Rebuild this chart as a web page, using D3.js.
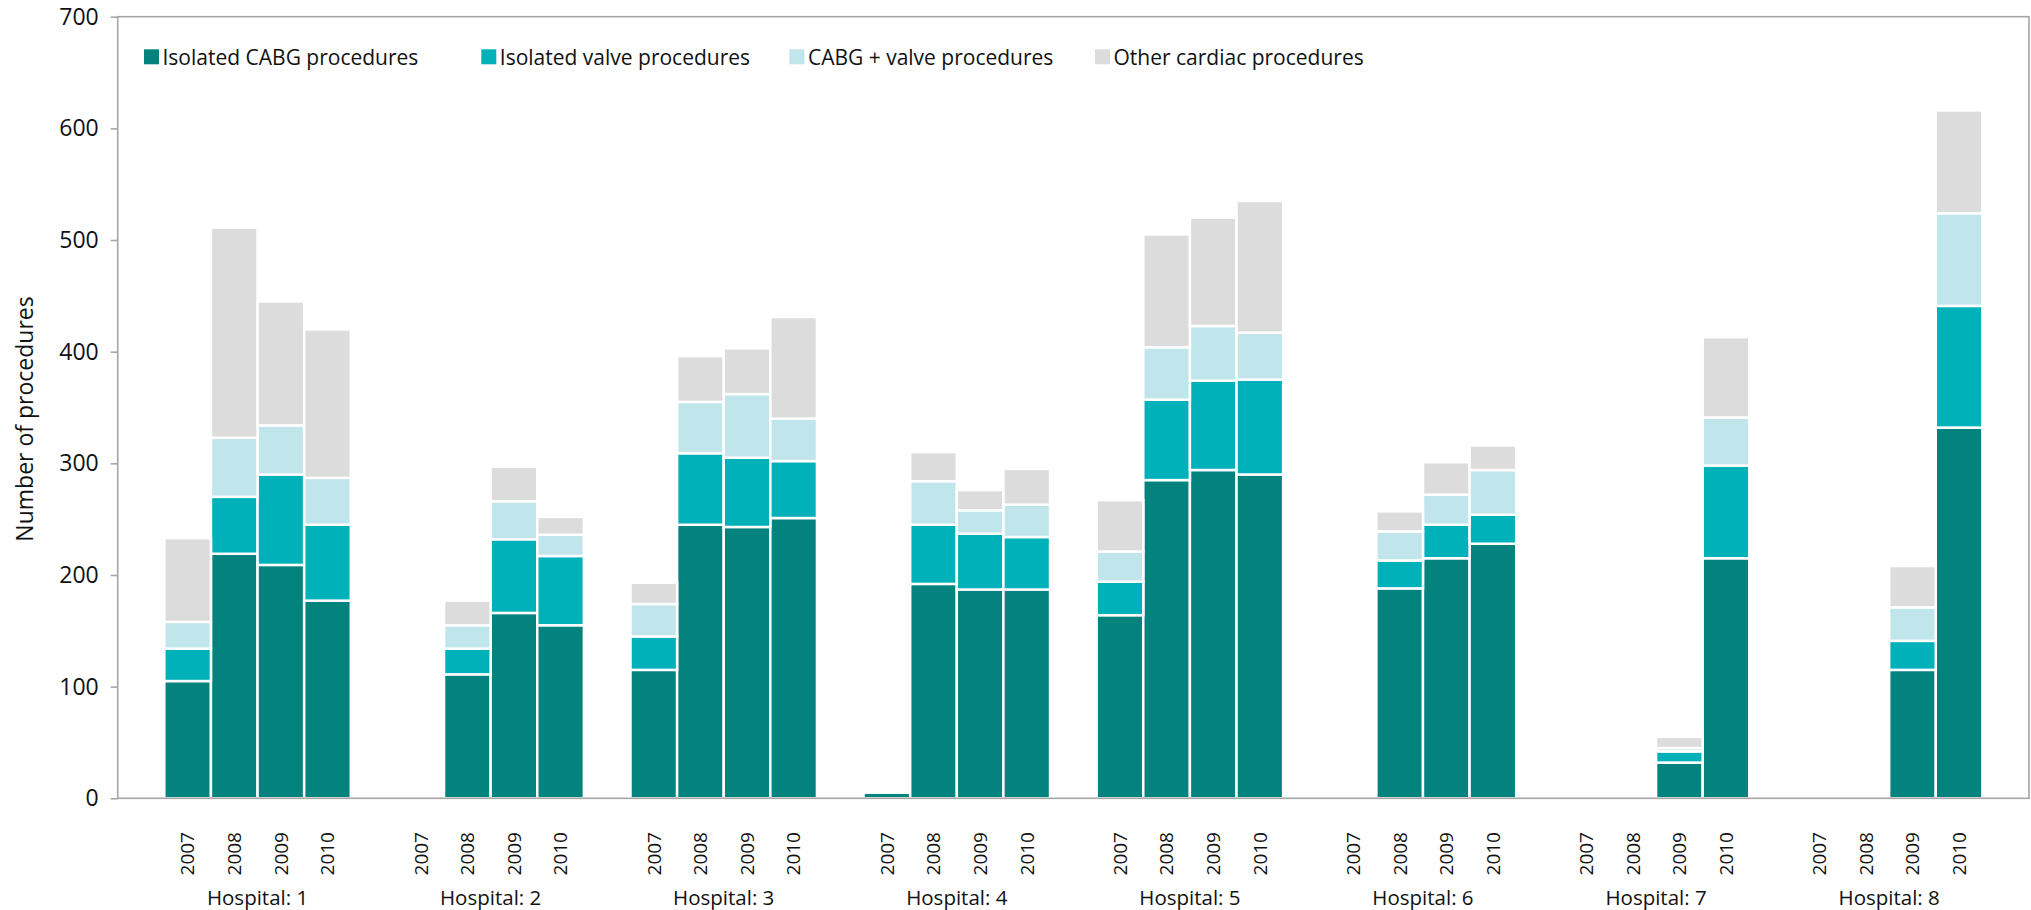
<!DOCTYPE html>
<html>
<head>
<meta charset="utf-8">
<title>Cardiac procedures by hospital and year</title>
<script src="https://cdn.jsdelivr.net/npm/d3@7"></script>
<style>
  html, body { margin: 0; padding: 0; background: #ffffff; }
  svg { display: block; }
  text { font-family: "Open Sans", "Noto Sans", sans-serif; fill: #111; }
</style>
</head>
<body>
<svg id="chart" width="2031" height="910"></svg>
<script>
// ---- Data -------------------------------------------------------------
const hospitals = ["Hospital: 1", "Hospital: 2", "Hospital: 3", "Hospital: 4",
                   "Hospital: 5", "Hospital: 6", "Hospital: 7", "Hospital: 8"];
const years = ["2007", "2008", "2009", "2010"];
const seriesNames = ["Isolated CABG procedures", "Isolated valve procedures",
                     "CABG + valve procedures", "Other cardiac procedures"];

// One value per hospital/year, hospital-major (H1 2007..2010, H2 2007..2010, ...)
const isolatedCabg = [105, 219, 209, 177,   0, 111, 166, 155,
                      115, 245, 243, 251,   5, 192, 187, 187,
                      164, 285, 294, 290,   0, 188, 215, 228,
                        0,   0,  32, 215,   0,   0, 115, 332];
const isolatedValve = [29, 51, 81, 68,   0, 23, 66, 62,
                       30, 64, 62, 51,   0, 53, 50, 47,
                       30, 72, 80, 85,   0, 25, 30, 26,
                        0,  0, 10, 83,   0,  0, 26, 109];
const cabgValve = [24, 53, 44, 42,   0, 21, 34, 19,
                   29, 46, 57, 38,   0, 39, 21, 29,
                   27, 47, 49, 42,   0, 26, 27, 40,
                    0,  0,  3, 43,   0,  0, 30, 83];
const otherCardiac = [75, 188, 111, 133,   0, 22, 31, 16,
                      19,  41,  41,  91,   0, 26, 18, 32,
                      46, 101,  97, 118,   0, 18, 29, 22,
                       0,   0,  10,  72,   0,  0, 37, 92];
const yTicks = [0, 100, 200, 300, 400, 500, 600, 700];

// ---- Appearance -------------------------------------------------------
const palette = ["#03827e", "#00b1ba", "#c0e6ec", "#dcdcdc"];
const plot = { left: 117.7, right: 2029, top: 16.7, bottom: 798.3 };
const frameColor = "#a6a6a6";

const svg = d3.select("#chart");

// ---- Table built from the arrays --------------------------------------
const keys = ["cabg", "valve", "combo", "other"];
const rows = [];
hospitals.forEach((h, i) => {
  years.forEach((yr, j) => {
    const k = i * years.length + j;
    rows.push({
      hospital: h, year: yr,
      cabg: isolatedCabg[k], valve: isolatedValve[k],
      combo: cabgValve[k], other: otherCardiac[k]
    });
  });
});

// ---- Scales -----------------------------------------------------------
const x0 = d3.scaleBand()
  .domain(hospitals)
  .range([plot.left, plot.right])
  .paddingInner(0.2)
  .paddingOuter(0.2);

const x1 = d3.scaleBand()
  .domain(years)
  .range([0, x0.bandwidth()]);

const y = d3.scaleLinear()
  .domain([0, 700])
  .range([plot.bottom, plot.top]);

const color = d3.scaleOrdinal().domain(keys).range(palette);

// ---- Stacked bars -----------------------------------------------------
const stacked = d3.stack().keys(keys)(rows);

const layers = svg.append("g").attr("class", "bars")
  .selectAll("g")
  .data(stacked)
  .join("g")
  .attr("fill", d => color(d.key));

layers.selectAll("rect")
  .data(d => d.filter(s => s[1] - s[0] > 0))
  .join("rect")
  .attr("x", s => x0(s.data.hospital) + x1(s.data.year))
  .attr("width", x1.bandwidth())
  .attr("y", s => y(s[1]))
  .attr("height", s => y(s[0]) - y(s[1]))
  .attr("stroke", "#ffffff")
  .attr("stroke-width", 2.5);

// ---- Frame and y axis -------------------------------------------------
svg.append("rect")
  .attr("x", plot.left)
  .attr("y", plot.top)
  .attr("width", plot.right - plot.left)
  .attr("height", plot.bottom - plot.top)
  .attr("fill", "none")
  .attr("stroke", frameColor)
  .attr("stroke-width", 1.6);

const yAxis = svg.append("g")
  .attr("transform", `translate(${plot.left},0)`)
  .call(d3.axisLeft(y).tickValues(yTicks).tickSize(7).tickPadding(12));
yAxis.select(".domain").remove();
yAxis.selectAll(".tick line").attr("stroke", frameColor).attr("stroke-width", 1.6);
yAxis.selectAll(".tick text")
  .attr("font-family", "'Open Sans', sans-serif")
  .attr("font-size", 23)
  .attr("fill", "#111");

svg.append("text")
  .attr("transform", `translate(33,419) rotate(-90)`)
  .attr("text-anchor", "middle")
  .attr("font-size", 23)
  .text("Number of procedures");

// ---- Category labels --------------------------------------------------
svg.append("g").attr("class", "year-labels")
  .selectAll("text")
  .data(rows)
  .join("text")
  .attr("transform", d => {
    const cx = x0(d.hospital) + x1(d.year) + x1.bandwidth() / 2;
    return `translate(${cx},832) rotate(-90)`;
  })
  .attr("text-anchor", "end")
  .attr("dy", "0.36em")
  .attr("font-size", 19)
  .text(d => d.year);

svg.append("g").attr("class", "hospital-labels")
  .selectAll("text")
  .data(hospitals)
  .join("text")
  .attr("x", h => x0(h) + x0.bandwidth() / 2)
  .attr("y", 905)
  .attr("text-anchor", "middle")
  .attr("font-size", 20.5)
  .text(h => h);

// ---- Legend -----------------------------------------------------------
const legendX = [144, 481.3, 789.4, 1095];
const legend = svg.append("g").attr("class", "legend")
  .selectAll("g")
  .data(seriesNames)
  .join("g")
  .attr("transform", (d, i) => `translate(${legendX[i]},49.3)`);

legend.append("rect")
  .attr("width", 15)
  .attr("height", 15)
  .attr("fill", (d, i) => palette[i]);

legend.append("text")
  .attr("x", 18.5)
  .attr("y", 15.7)
  .attr("font-size", 21)
  .text(d => d);
</script>
</body>
</html>
